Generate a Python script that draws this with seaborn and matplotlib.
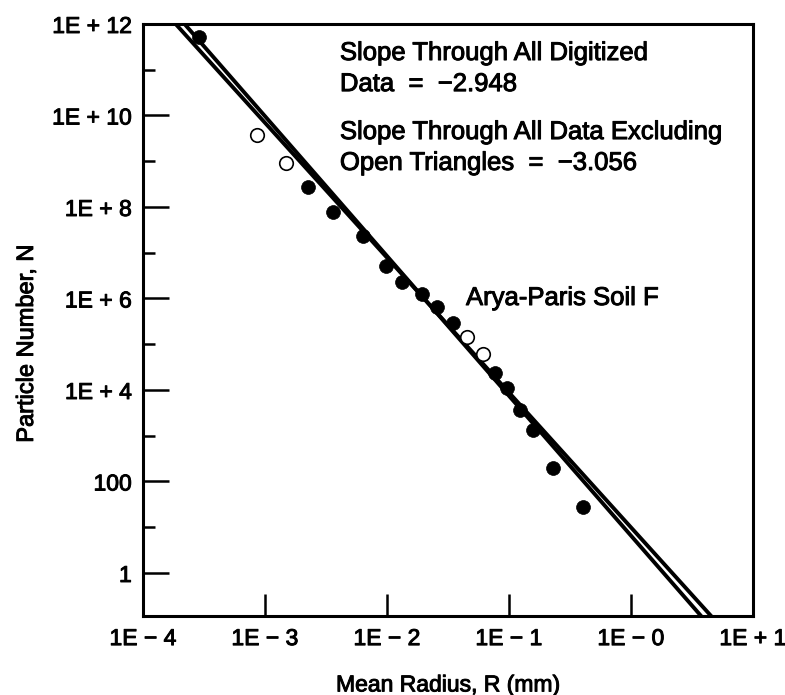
import numpy as np
import pandas as pd
import seaborn as sns
import matplotlib.pyplot as plt
import matplotlib.patheffects as pe
from matplotlib.ticker import FixedLocator, FixedFormatter, NullLocator, NullFormatter

sns.set_theme(style="white")
plt.rcParams['font.family'] = ['Liberation Sans', 'DejaVu Sans']

radius_filled = [2.88e-4, 2.25e-3, 3.61e-3, 6.35e-3, 9.82e-3, 1.33e-2, 1.94e-2,
                 2.57e-2, 3.48e-2, 7.67e-2, 9.64e-2, 0.123, 0.157, 0.230, 0.405]
number_filled = [5.2e11, 2.74e8, 7.78e7, 2.32e7, 5.13e6, 2.30e6, 1.25e6,
                 6.52e5, 2.91e5, 2.36e4, 1.11e4, 3.66e3, 1.34e3, 197, 27.7]

# Points excluded from the second fit (open symbols)
radius_open = [8.59e-4, 1.49e-3, 4.53e-2, 6.12e-2]
number_open = [3.75e9, 9.16e8, 1.44e5, 6.12e4]

# Fitted power laws: log10(N) = intercept + slope * log10(R)
slope_all, intercept_all = -2.948, 1.00
slope_excl, intercept_excl = -3.056, 0.82

x_ticks = [1e-4, 1e-3, 1e-2, 1e-1, 1e0, 1e1]
x_tick_labels = ["1E − 4", "1E − 3", "1E − 2", "1E − 1", "1E − 0", "1E + 1"]
y_ticks = [1e0, 1e2, 1e4, 1e6, 1e8, 1e10, 1e12]
y_tick_labels = ["1", "100", "1E + 4", "1E + 6", "1E + 8", "1E + 10", "1E + 12"]
y_minor = [1e1, 1e3, 1e5, 1e7, 1e9, 1e11]

heavy = [pe.withStroke(linewidth=0.7, foreground="black")]

fig = plt.figure(figsize=(7.85, 6.95), dpi=100)
ax = fig.add_axes([0.182, 0.1137, 0.777, 0.8518])
ax.set_xscale("log")
ax.set_yscale("log")

# Fit lines across the full x range (clipped by the axes)
log_r = np.array([-4.5, 1.5])
fits = pd.DataFrame({
    "R": np.concatenate([10 ** log_r, 10 ** log_r]),
    "N": np.concatenate([10 ** (intercept_all + slope_all * log_r),
                         10 ** (intercept_excl + slope_excl * log_r)]),
    "fit": ["all"] * 2 + ["excl"] * 2,
})
sns.lineplot(data=fits, x="R", y="N", units="fit", estimator=None,
             color="black", linewidth=2.8, ax=ax, legend=False)

filled = pd.DataFrame({"R": radius_filled, "N": number_filled})
opened = pd.DataFrame({"R": radius_open, "N": number_open})
sns.scatterplot(data=filled, x="R", y="N", s=100, color="black",
                edgecolor="black", linewidth=0.5, ax=ax, zorder=3)
sns.scatterplot(data=opened, x="R", y="N", s=95, color="white",
                edgecolor="black", linewidth=1.2, ax=ax, zorder=3)

ax.set_xlim(1e-4, 1e1)
ax.set_ylim(10 ** -0.94, 1e12)

ax.xaxis.set_major_locator(FixedLocator(x_ticks))
ax.xaxis.set_major_formatter(FixedFormatter(x_tick_labels))
ax.xaxis.set_minor_locator(NullLocator())
ax.yaxis.set_major_locator(FixedLocator(y_ticks))
ax.yaxis.set_major_formatter(FixedFormatter(y_tick_labels))
ax.yaxis.set_minor_locator(FixedLocator(y_minor))
ax.yaxis.set_minor_formatter(NullFormatter())

ax.tick_params(axis="x", which="major", direction="in", length=16, width=1.8,
               labelsize=16.5, pad=8, color="black", labelcolor="black",
               bottom=True, top=False)
ax.tick_params(axis="y", which="major", direction="in", length=19, width=1.8,
               labelsize=16.5, pad=8, color="black", labelcolor="black",
               left=True, right=False)
ax.tick_params(axis="y", which="minor", direction="in", length=8.5, width=1.8,
               color="black", left=True, right=False)

for lbl in ax.get_xticklabels() + ax.get_yticklabels():
    lbl.set_path_effects(heavy)

for side in ["left", "right", "top", "bottom"]:
    ax.spines[side].set_visible(True)
    ax.spines[side].set_color("black")
    ax.spines[side].set_linewidth(2.2)

ax.set_xlabel("Mean Radius, R (mm)", fontsize=16.5, color="black",
              path_effects=heavy)
ax.set_ylabel("Particle Number, N", fontsize=17, color="black",
              path_effects=heavy)
ax.xaxis.set_label_coords(0.5, -0.097)
ax.yaxis.set_label_coords(-0.172, 0.46)

text_kw = dict(fontsize=18.5, color="black", ha="left", va="center",
               path_effects=heavy)
fig.text(0.433, 0.9237, "Slope Through All Digitized", **text_kw)
fig.text(0.433, 0.879, "Data  =  −2.948", **text_kw)
fig.text(0.433, 0.810, "Slope Through All Data Excluding", **text_kw)
fig.text(0.433, 0.7655, "Open Triangles  =  −3.056", **text_kw)
fig.text(0.5936, 0.5712, "Arya-Paris Soil F", **text_kw)

fig.savefig("out.png", dpi=100)
